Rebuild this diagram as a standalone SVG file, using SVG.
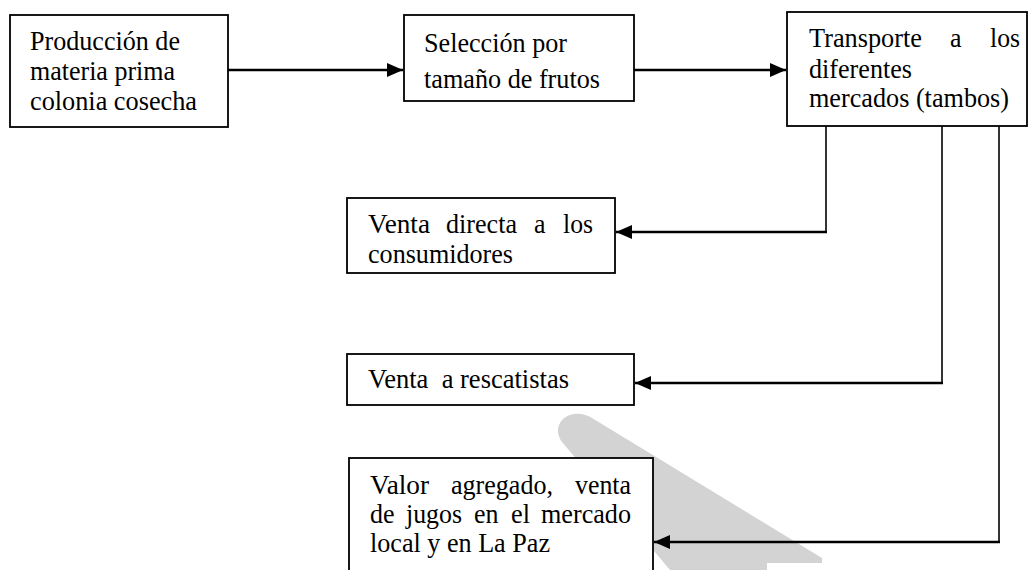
<svg xmlns="http://www.w3.org/2000/svg" width="1029" height="570" viewBox="0 0 1029 570">
<style>
.box{fill:#fff;stroke:#000;stroke-width:1.8}
.t{font-family:"Liberation Serif","Times New Roman",serif;font-size:28px;fill:#000}
.h{fill:none;stroke:#000;stroke-width:2.4}
.v{fill:none;stroke:#000;stroke-width:1.6}
</style>
<defs>
<marker id="ah" markerUnits="userSpaceOnUse" markerWidth="18" markerHeight="16" refX="16" refY="7" orient="auto">
<path d="M0,0 L16,7 L0,14 Z" fill="#000"/>
</marker>
</defs>
<rect width="1029" height="570" fill="#fff"/>
<path id="watermark" d="M562,442 C553,430 560,416 574,414 C581,413 587,415 592,418 L822,558 L822,563 L767,563 L767,570 L670,570 Z" fill="#d3d3d3"/>
<g id="connectors">
<path class="h" d="M228,70 L403,70" marker-end="url(#ah)"/>
<path class="h" d="M634,70 L786,70" marker-end="url(#ah)"/>
<path class="v" d="M826,126 L826,232"/>
<path class="h" d="M827,232 L616,232" marker-end="url(#ah)"/>
<path class="v" d="M942,126 L942,383"/>
<path class="h" d="M943,383 L635,383" marker-end="url(#ah)"/>
<path class="v" d="M999,126 L999,542"/>
<path class="h" d="M1000,542 L654,542" marker-end="url(#ah)"/>
</g>
<g id="n1">
<rect class="box" x="10" y="15" width="218" height="112"/>
<text class="t" x="30" y="50" textLength="150" lengthAdjust="spacingAndGlyphs">Producción de</text>
<text class="t" x="30" y="80" textLength="145" lengthAdjust="spacingAndGlyphs">materia prima</text>
<text class="t" x="30" y="110" textLength="167" lengthAdjust="spacingAndGlyphs">colonia cosecha</text>
</g>
<g id="n2">
<rect class="box" x="404" y="15" width="230" height="86"/>
<text class="t" x="424" y="52" textLength="143" lengthAdjust="spacingAndGlyphs">Selección por</text>
<text class="t" x="424" y="88" textLength="176" lengthAdjust="spacingAndGlyphs">tamaño de frutos</text>
</g>
<g id="n3">
<rect class="box" x="787" y="12" width="240" height="114"/>
<text class="t" x="809" y="47" textLength="113" lengthAdjust="spacingAndGlyphs">Transporte</text>
<text class="t" x="950" y="47" textLength="11.5" lengthAdjust="spacingAndGlyphs">a</text>
<text class="t" x="990" y="47" textLength="30" lengthAdjust="spacingAndGlyphs">los</text>
<text class="t" x="809" y="78" textLength="103" lengthAdjust="spacingAndGlyphs">diferentes</text>
<text class="t" x="809" y="107" textLength="200" lengthAdjust="spacingAndGlyphs">mercados (tambos)</text>
</g>
<g id="n4">
<rect class="box" x="347" y="198" width="268" height="75"/>
<text class="t" x="368" y="233" textLength="62" lengthAdjust="spacingAndGlyphs">Venta</text>
<text class="t" x="446" y="233" textLength="71" lengthAdjust="spacingAndGlyphs">directa</text>
<text class="t" x="534" y="233" textLength="11.5" lengthAdjust="spacingAndGlyphs">a</text>
<text class="t" x="563" y="233" textLength="30" lengthAdjust="spacingAndGlyphs">los</text>
<text class="t" x="368" y="263" textLength="145" lengthAdjust="spacingAndGlyphs">consumidores</text>
</g>
<g id="n5">
<rect class="box" x="347" y="354" width="287" height="51"/>
<text class="t" x="368" y="388" xml:space="preserve" textLength="201" lengthAdjust="spacingAndGlyphs">Venta  a rescatistas</text>
</g>
<g id="n6">
<rect class="box" x="349" y="458" width="304" height="130"/>
<text class="t" x="370" y="494" textLength="59" lengthAdjust="spacingAndGlyphs">Valor</text>
<text class="t" x="451" y="494" textLength="102" lengthAdjust="spacingAndGlyphs">agregado,</text>
<text class="t" x="575" y="494" textLength="56" lengthAdjust="spacingAndGlyphs">venta</text>
<text class="t" x="370" y="523" textLength="24.5" lengthAdjust="spacingAndGlyphs">de</text>
<text class="t" x="406" y="523" textLength="56" lengthAdjust="spacingAndGlyphs">jugos</text>
<text class="t" x="474" y="523" textLength="24.5" lengthAdjust="spacingAndGlyphs">en</text>
<text class="t" x="511" y="523" textLength="19" lengthAdjust="spacingAndGlyphs">el</text>
<text class="t" x="541" y="523" textLength="90" lengthAdjust="spacingAndGlyphs">mercado</text>
<text class="t" x="370" y="552" textLength="180" lengthAdjust="spacingAndGlyphs">local y en La Paz</text>
</g>
</svg>
